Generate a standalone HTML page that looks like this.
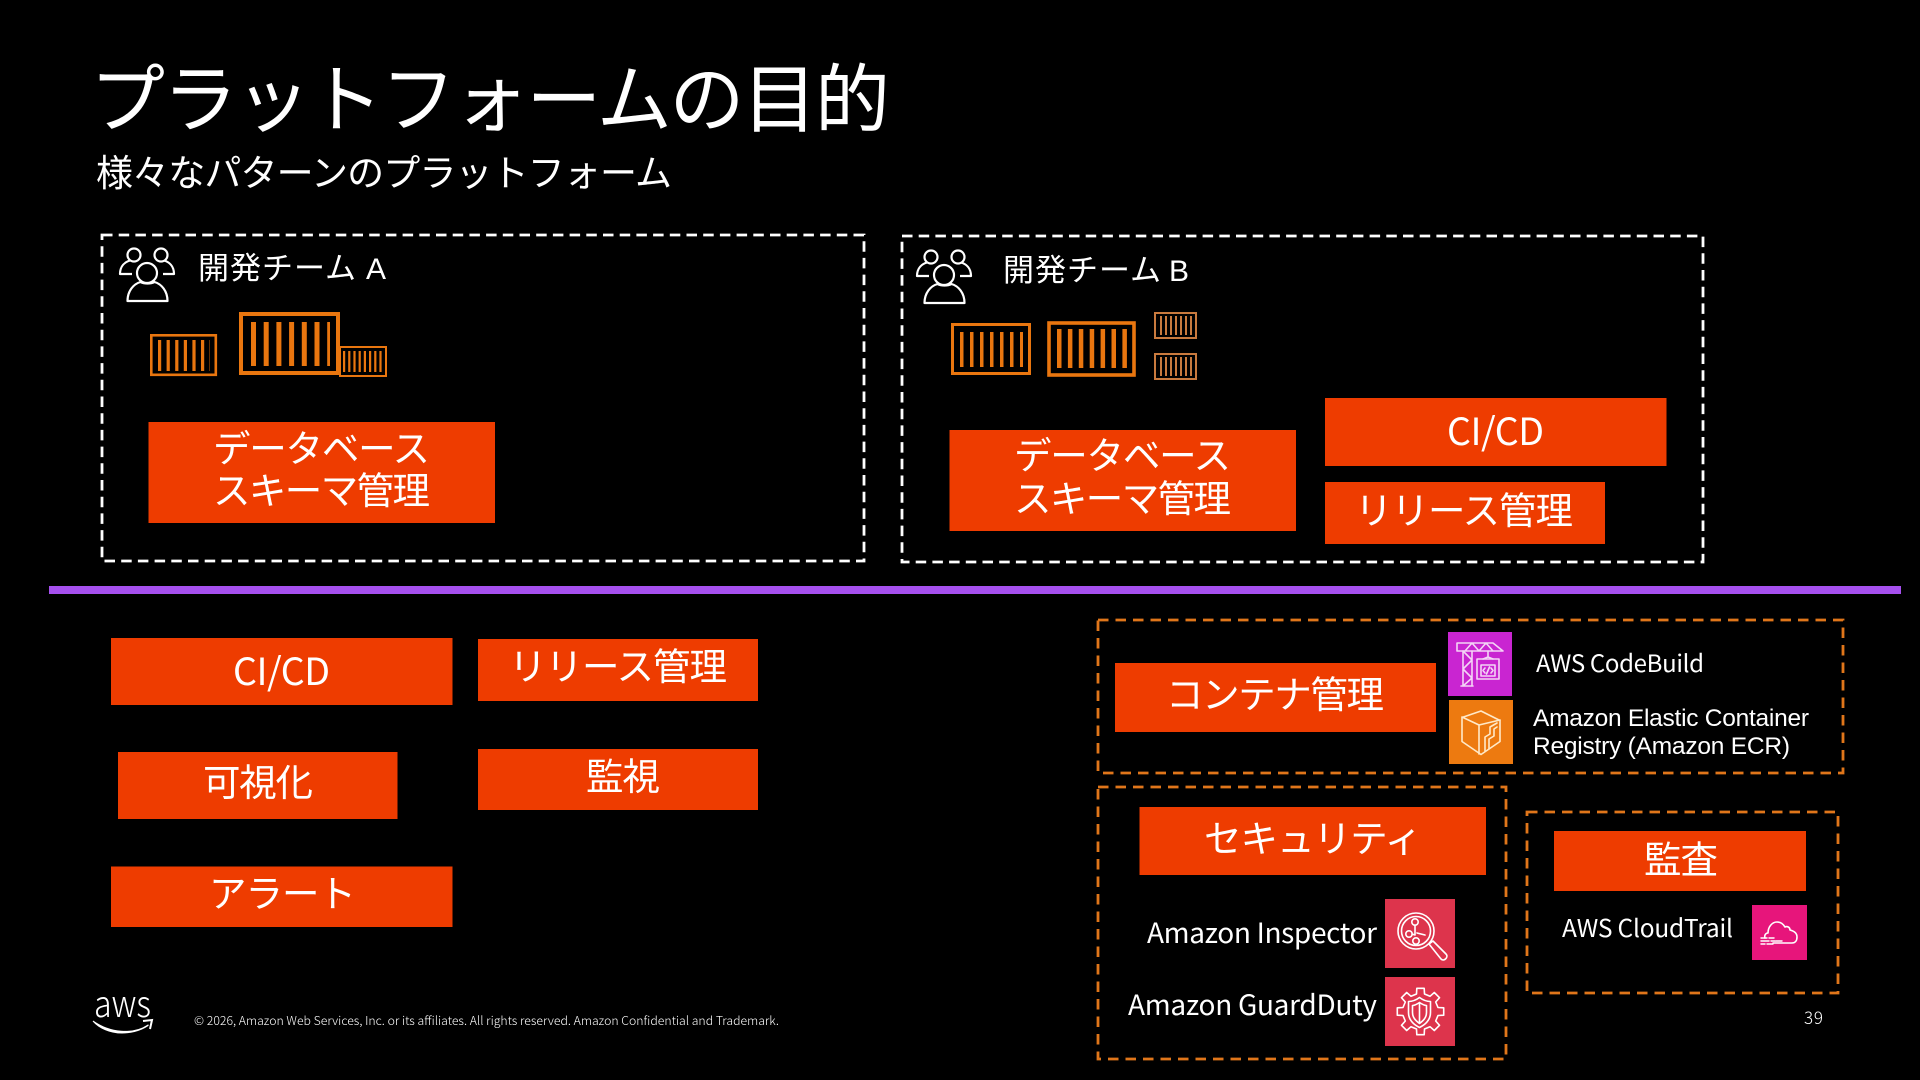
<!DOCTYPE html>
<html lang="ja">
<head>
<meta charset="utf-8">
<title>プラットフォームの目的</title>
<style>
html,body{margin:0;padding:0;background:#000;width:1920px;height:1080px;overflow:hidden}
svg{display:block}
text{font-family:"Noto Sans CJK JP","Liberation Sans",sans-serif;fill:#fff;font-weight:400}
.ar{font-family:"Liberation Sans",sans-serif;font-weight:400}
.b{fill:#ee3c00}
.dw{fill:none;stroke:#fff;stroke-width:2.800;stroke-dasharray:10.500 6.200}
.do{fill:none;stroke:#e0761a;stroke-width:2.800;stroke-dasharray:10.500 7}
.c{fill:none;stroke:#e9760f}
.ic{fill:none;stroke:#fff;stroke-width:1.600;stroke-linejoin:round;stroke-linecap:round}
.f36{font-size:37.500px}
</style>
</head>
<body>
<svg width="1920" height="1080" viewBox="0 0 1920 1080" xmlns="http://www.w3.org/2000/svg">
<defs>
<g id="people" fill="none" stroke="#fff" stroke-width="2.200" stroke-linejoin="round">
<circle cx="134" cy="255" r="6.500"/>
<circle cx="161" cy="255" r="6.500"/>
<path d="M132 274H120c0-8 5-12 10-13.500M163 274h11c0-8-5-12-10-13.500"/>
<circle cx="147" cy="273" r="10" fill="#000"/>
<path d="M127.500 301c0-10 6-17 13-19 4 2 10 2 14 0 7 2 13 9 13 19z" fill="#000"/>
</g>
</defs>
<rect width="1920" height="1080" fill="#000"/>

<text x="90" y="126" font-size="75" textLength="800">プラットフォームの目的</text>
<text x="96" y="186" font-size="37" textLength="576">様々なパターンのプラットフォーム</text>

<!-- team A -->
<rect class="dw" x="102" y="235" width="762" height="326"/>
<use href="#people"/>
<text x="198" y="279" font-size="31" textLength="158">開発チーム</text>
<text x="366" y="279" font-size="30" class="ar">A</text>
<g class="c">
<rect x="151.300" y="335.300" width="64.500" height="39.500" stroke-width="2.600"/>
<line x1="158" x2="210" y1="355.500" y2="355.500" stroke-width="31" stroke-dasharray="3.200 5.400"/>
<rect x="241" y="314" width="97" height="59" stroke-width="4"/>
<line x1="251" x2="330" y1="344" y2="344" stroke-width="44" stroke-dasharray="5 7.700"/>
<rect x="340" y="347" width="46" height="29" stroke-width="2"/>
<line x1="343" x2="384" y1="361.500" y2="361.500" stroke-width="21" stroke-dasharray="2.200 3"/>
<rect x="952.500" y="324.500" width="77" height="49" stroke-width="3"/>
<line x1="960" x2="1023" y1="349.500" y2="349.500" stroke-width="35" stroke-dasharray="3.500 6.500"/>
<rect x="1049" y="323" width="85" height="52" stroke-width="3.600"/>
<line x1="1057" x2="1127" y1="348.500" y2="348.500" stroke-width="39" stroke-dasharray="4.500 6.400"/>
</g>
<g class="c" style="stroke:#c97a3e">
<rect x="1155" y="313" width="41" height="25" stroke-width="2"/>
<line x1="1160" x2="1192" y1="325.500" y2="325.500" stroke-width="19" stroke-dasharray="2 3"/>
<rect x="1155" y="354" width="41" height="25" stroke-width="2"/>
<line x1="1160" x2="1192" y1="366.500" y2="366.500" stroke-width="19" stroke-dasharray="2 3"/>
</g>
<rect class="b" x="148.500" y="422" width="346.500" height="101"/>
<text class="f36" x="213" y="462" textLength="217">データベース</text>
<text class="f36" x="213" y="504" textLength="217">スキーマ管理</text>

<!-- team B -->
<rect class="dw" x="902" y="236" width="801" height="326"/>
<use href="#people" x="797" y="2"/>
<text x="1003" y="281" font-size="31" textLength="158">開発チーム</text>
<text x="1169" y="281" font-size="30" class="ar">B</text>
<rect class="b" x="949.500" y="430" width="346.500" height="101"/>
<text class="f36" x="1014" y="469" textLength="217">データベース</text>
<text class="f36" x="1014" y="512" textLength="217">スキーマ管理</text>
<rect class="b" x="1325" y="398" width="341.500" height="68"/>
<text class="f36" x="1447" y="445" textLength="97">CI/CD</text>
<rect class="b" x="1325" y="482" width="280" height="62"/>
<text class="f36" x="1355" y="524" textLength="218">リリース管理</text>

<!-- divider -->
<rect x="49" y="586" width="1852" height="8" fill="#a650ee"/>

<!-- left platform boxes -->
<rect class="b" x="111" y="638" width="341.500" height="67"/>
<text class="f36" x="233" y="685" textLength="97">CI/CD</text>
<rect class="b" x="478" y="639" width="280" height="62"/>
<text class="f36" x="509" y="680" textLength="218">リリース管理</text>
<rect class="b" x="118" y="752" width="279.500" height="67"/>
<text class="f36" x="203" y="796" textLength="110">可視化</text>
<rect class="b" x="478" y="749" width="280" height="61"/>
<text class="f36" x="586" y="790" textLength="74">監視</text>
<rect class="b" x="111" y="866.500" width="341.500" height="60.500"/>
<text class="f36" x="209" y="907" textLength="147">アラート</text>

<!-- containers -->
<rect class="do" x="1098" y="620" width="745" height="153"/>
<rect class="b" x="1115" y="663" width="321" height="69"/>
<text class="f36" x="1166" y="708" textLength="218">コンテナ管理</text>

<rect x="1448" y="632" width="64" height="64" fill="#c925d1"/>
<g class="ic" stroke-width="1.300" style="stroke:#f4d4f6">
<path d="M1458 643h35l10 8h-46v-8zM1465 651l7-8 7 8 7-8 7 8"/>
<path d="M1463 651v35M1472 651v35M1461 686h12M1463 651l9 9-9 9 9 9-9 8"/>
<path d="M1488 651v6M1483 659l5-2 5 2"/>
<rect x="1477" y="659" width="22" height="20"/>
<rect x="1481" y="665" width="14" height="11"/>
<path d="M1485 668l-2 2.500 2 2.500M1491 668l2 2.500-2 2.500M1489.500 667l-3 7"/>
</g>

<rect x="1449" y="700" width="64" height="64" fill="#ed7a10"/>
<g class="ic" style="stroke:#ffe9c8">
<path d="M1481 711l19 9.500v21l-19 13-19-13v-24z"/>
<path d="M1462 717l17 8v29M1479 725l21-5"/>
<path d="M1485 751v-14l5-3v-7l7-4M1489 749v-10l5-3v-7l3-2"/>
</g>

<text x="1536" y="672" font-size="24" textLength="168">AWS CodeBuild</text>
<text class="ar" x="1533" y="726" font-size="24.500" textLength="276">Amazon Elastic Container</text>
<text class="ar" x="1533" y="754" font-size="24.500" textLength="257">Registry (Amazon ECR)</text>

<!-- security -->
<rect class="do" x="1098" y="787" width="408" height="272"/>
<rect class="b" x="1139.500" y="807" width="346.500" height="68"/>
<text class="f36" x="1204" y="852" textLength="218">セキュリティ</text>
<text x="1147" y="943" font-size="28" textLength="230">Amazon Inspector</text>
<text x="1128" y="1015" font-size="28" textLength="249">Amazon GuardDuty</text>

<rect x="1385" y="899" width="70" height="69" fill="#dd344c"/>
<g class="ic" stroke-width="1.800">
<circle cx="1416" cy="931" r="18"/>
<circle cx="1416" cy="931" r="14.500"/>
<circle cx="1415" cy="922" r="3.200"/>
<circle cx="1409" cy="934" r="3.200"/>
<circle cx="1416" cy="941" r="3.200"/>
<path d="M1415 925v10l-3-1M1425 935l-8-2M1429 944l4-3 13 13c3 3-2 8-5 5z"/>
</g>

<rect x="1385" y="977" width="70" height="69" fill="#dd344c"/>
<g class="ic" stroke-width="1.700" transform="translate(1420.500 1011.500)">
<polygon points="-4,-17.500 -3.700,-23.200 3.700,-23.200 4,-17.500 9.500,-15.200 13.800,-19 19,-13.800 15.200,-9.500 17.500,-4 23.200,-3.700 23.200,3.700 17.500,4 15.200,9.500 19,13.800 13.800,19 9.500,15.200 4,17.500 3.700,23.200 -3.700,23.200 -4,17.500 -9.500,15.200 -13.800,19 -19,13.800 -15.200,9.500 -17.500,4 -23.200,3.700 -23.200,-3.700 -17.500,-4 -15.200,-9.500 -19,-13.800 -13.800,-19 -9.500,-15.200"/>
<path d="M-1-14c4 3 8 4 11 4v11c0 7-5 12-11 15-6-3-11-8-11-15v-11c3 0 7-1 11-4z"/>
<path d="M-1-9c3 2 5 3 7 3v7c0 5-3 8-7 11-4-3-7-6-7-11v-7c2 0 4-1 7-3zM-1-9v21"/>
</g>

<!-- audit -->
<rect class="do" x="1527" y="812" width="311" height="181"/>
<rect class="b" x="1554" y="831" width="252" height="60"/>
<text class="f36" x="1644" y="873" textLength="74">監査</text>
<text x="1562" y="937" font-size="24.500" textLength="171">AWS CloudTrail</text>
<rect x="1752" y="905" width="55" height="55" fill="#e7157b"/>
<g class="ic" stroke-width="1.100">
<path d="M1765 938c-1-3 1-5 3-5 0-6 4-11 9-11 4 0 6 2 8 5 2-1 5 0 5 3 4 1 7 3 7 7 0 4-2 6-5 6h-19"/>
<path d="M1761 938h6M1769 938h5M1761 941h8M1771 941h4M1776 941h6M1761 944h4M1767 944h6" stroke-width="1.400"/>
</g>

<!-- footer -->
<text x="94" y="1017" font-size="37" textLength="57" lengthAdjust="spacingAndGlyphs" style="font-weight:300">aws</text>
<path d="M93 1021c17 12 40 14 55 4 2 0-10 8-26 8-12 0-23-5-29-12z" fill="#fff" stroke="#fff" stroke-width="1"/>
<path d="M143 1021l9-1-2 9" fill="none" stroke="#fff" stroke-width="2"/>
<text x="194" y="1025" font-size="12" textLength="585" lengthAdjust="spacingAndGlyphs" style="font-weight:300">© 2026, Amazon Web Services, Inc. or its affiliates. All rights reserved. Amazon Confidential and Trademark.</text>
<text x="1804" y="1024" font-size="17" textLength="19" style="font-weight:300">39</text>
</svg>
</body>
</html>
